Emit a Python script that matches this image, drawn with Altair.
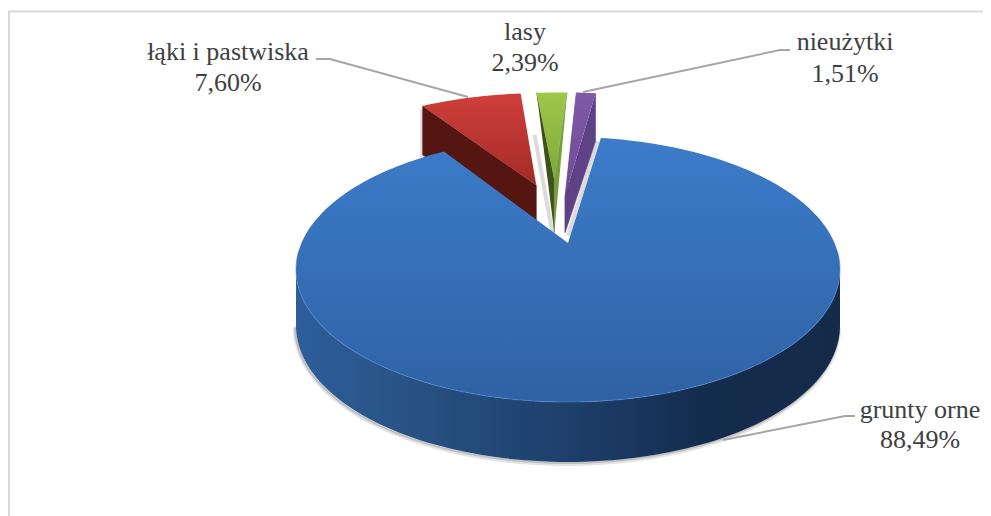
import math
import altair as alt
import pandas as pd

categories = ["grunty orne", "łąki i pastwiska", "lasy", "nieużytki"]
shares = [88.49, 7.60, 2.39, 1.51]
share_labels = ["88,49%", "7,60%", "2,39%", "1,51%"]

# layout of the tilted pie
CX, CY, A, B, K = 568.0, 243.0, 127.2, 266.5, 0.2
START = 8.5
OFFSETS = [(0.0, 0.0), (-0.131, 0.50), (-0.057, 0.55), (-0.012, 0.55)]
RADII = [1.0, 1.04, 1.0, 1.0]
W, H = 975, 508


def project(u, v):
    s = 1.0 / (1.0 + K * v)
    return CX + B * u * s, CY - A * v * s


def wall(v):
    return 55.2 - 4.8 * v


def rim(t, off=(0.0, 0.0), rad=1.0):
    r = math.radians(t)
    return rad * math.sin(r) + off[0], rad * math.cos(r) + off[1]


def arc(t0, t1, off=(0.0, 0.0), drop=False, rad=1.0):
    n = max(2, int(abs(t1 - t0) / 1.5))
    out = []
    for i in range(n + 1):
        t = t0 + (t1 - t0) * i / n
        u, v = rim(t, off, rad)
        x, y = project(u, v)
        out.append((x, y + (wall(v) if drop else 0)))
    return out


xs = alt.Scale(domain=[0, W], range=[0, W], nice=False, zero=False)
ys = alt.Scale(domain=[0, H], range=[0, H], nice=False, zero=False)


def enc(ch):
    return ch.encode(
        x=alt.X("x:Q", scale=xs, axis=None),
        y=alt.Y("y:Q", scale=ys, axis=None),
        order="i:Q",
    )


def frame(pts):
    return pd.DataFrame({"x": [p[0] - 8 for p in pts], "y": [p[1] - 8 for p in pts], "i": range(len(pts))})


def vgrad(c0, c1):
    return {"gradient": "linear", "x1": 0, "y1": 0, "x2": 0, "y2": 1,
            "stops": [{"offset": 0, "color": c0}, {"offset": 1, "color": c1}]}


def poly(pts, fill, stroke=None, opacity=1.0):
    col = stroke if stroke else (fill if isinstance(fill, str) else "#000000")
    kw = dict(fill=fill, stroke=col, strokeWidth=0.6 if stroke or isinstance(fill, str) else 0, opacity=opacity)
    return enc(alt.Chart(frame(pts)).mark_line(**kw))


def line(pts, color, width=2.0, opacity=1.0):
    return enc(alt.Chart(frame(pts)).mark_line(color=color, strokeWidth=width, opacity=opacity))


layers = []

# frame of the chart area
layers.append(line([(9, 516), (9, 11.5), (983, 11.5)], "#d9d9d9", 2))

# angular extents from the shares
bounds = []
t = START
for s in shares:
    bounds.append((t, t + s * 3.6))
    t += s * 3.6


def slice_points(idx):
    off = OFFSETS[idx]
    t0, t1 = bounds[idx]
    return off, t0, t1, project(*off), off[1], RADII[idx]


# red
off, t0, t1, apex, av, rad = slice_points(1)
c0 = project(*rim(t0, off, rad))
h0 = wall(rim(t0, off, rad)[1])
h_a = wall(av)
layers.append(poly([(c0[0] - 2, c0[1] + 2), (c0[0] - 2, c0[1] + h0 + 2), (apex[0], apex[1] + h_a)], "#808080", opacity=0.25))
layers.append(poly([c0, apex, (apex[0], apex[1] + h_a), (c0[0], c0[1] + h0)], "#551611"))
layers.append(poly([apex] + arc(t0, t1, off, rad=rad), vgrad("#cf3f3b", "#a32b27")))

# green
off, t0, t1, apex, av, rad = slice_points(2)
c0 = project(*rim(t0, off))
c1 = project(*rim(t1, off))
low = (apex[0], apex[1] + wall(av))
layers.append(line([(c0[0] - 2, c0[1] + 42), (low[0] - 2, low[1])], "#7f7f7f", 4, 0.28))
layers.append(poly([c0, apex, low], "#3f5219"))
layers.append(poly([c1, apex, low], "#77a03a"))
layers.append(poly([apex] + arc(t0, t1, off), vgrad("#9dc849", "#80a83c")))

# purple
off, t0, t1, apex, av, rad = slice_points(3)
c0 = project(*rim(t0, off))
c1 = project(*rim(t1, off))
low = (apex[0], apex[1] + wall(av))
h1 = wall(rim(t1, off)[1])
layers.append(line([(c1[0] + 2, c1[1] + h1), (low[0] + 3, low[1] + 3)], "#7f7f7f", 4, 0.28))
layers.append(poly([c0, (apex[0], apex[1] + 16), low], "#674a90"))
layers.append(poly([c1, (c1[0], c1[1] + h1), low, (apex[0], apex[1] + 16)], "#5f4286"))
layers.append(poly([(apex[0], apex[1] + 16)] + arc(t0, t1, off), vgrad("#8059a9", "#6d4c94")))

# blue wall and shadow
ext = math.degrees(math.acos(-K))
front_top = arc(ext, 360 - ext)
front_low = arc(ext, 360 - ext, drop=True)
layers.append(line([(x - 1, y + 2) for x, y in front_low], "#7f7f7f", 4, 0.22))
layers.append(line([(x - 1, y + 1) for x, y in front_low], "#7f7f7f", 2, 0.35))
wall_grad = {"gradient": "linear", "x1": 0, "y1": 0, "x2": 1, "y2": 0,
             "stops": [{"offset": 0, "color": "#2d5e9b"}, {"offset": 0.25, "color": "#26507f"},
                       {"offset": 0.5, "color": "#1e3f6c"}, {"offset": 0.75, "color": "#142c4d"},
                       {"offset": 1, "color": "#142a49"}]}
layers.append(poly(front_top + front_low[::-1], wall_grad))

# blue top
off, t0, t1, apex, av, rad = slice_points(0)
layers.append(poly([apex] + arc(t0, t1, off), vgrad("#3c7cca", "#2f62a4")))
layers.append(line(arc(ext - 8, 360 - ext + 8), "#4c88d2", 1.2, 0.5))

# leaders
layers.append(line([(316, 59), (330, 59), (468, 97)], "#a6a6a6"))
layers.append(line([(790, 50), (780, 50), (583, 92)], "#a6a6a6"))
layers.append(line([(855, 416), (845, 416), (723, 440)], "#a6a6a6"))

# labels
label_x = [920, 228, 525, 845]
label_y = [418, 60, 40, 50]
label_gap = [30, 31, 31, 32]
label_rows = []
for cat, txt, lx, ly, gap in zip(categories, share_labels, label_x, label_y, label_gap):
    label_rows.append({"t": cat, "x": lx - 8, "y": ly - 8})
    label_rows.append({"t": txt, "x": lx - 8, "y": ly + gap - 8})
layers.append(
    alt.Chart(pd.DataFrame(label_rows))
    .mark_text(align="center", baseline="alphabetic", font="Liberation Serif", fontSize=26, color="#404040")
    .encode(x=alt.X("x:Q", scale=xs, axis=None), y=alt.Y("y:Q", scale=ys, axis=None), text="t:N")
)

chart = (
    alt.layer(*layers)
    .properties(width=W, height=H, padding=0, autosize=alt.AutoSizeParams(type="none"),
                view=alt.ViewConfig(stroke=None))
    .configure(background="white")
)
chart.save("out.html", embed_options={"renderer": "svg", "actions": False})
